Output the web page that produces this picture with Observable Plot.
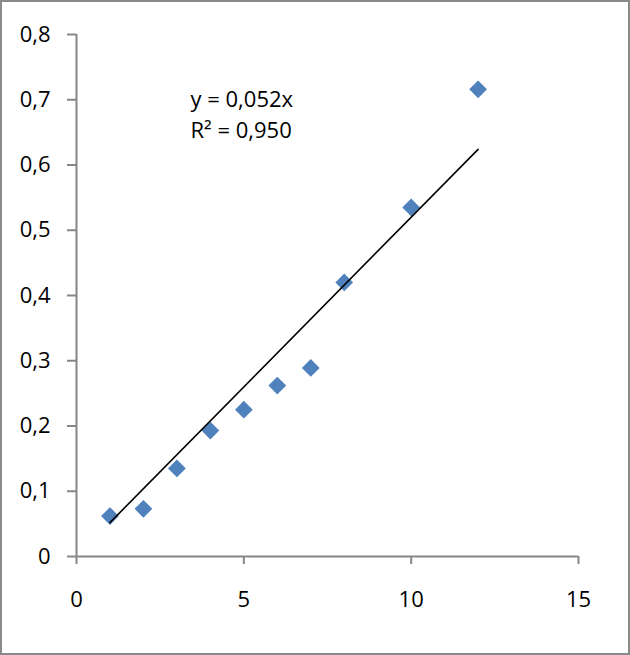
<!DOCTYPE html>
<html>
<head>
<meta charset="utf-8">
<script src="https://cdn.jsdelivr.net/npm/d3@7"></script>
<script src="https://cdn.jsdelivr.net/npm/@observablehq/plot@0.6"></script>
<style>
  html, body { margin: 0; padding: 0; background: #fff; }
  #chart svg { display: block; outline: 2px solid #8a8a8a; outline-offset: -2px; }
</style>
</head>
<body>
<div id="chart"></div>
<script>
// Data
const xValues = [1, 2, 3, 4, 5, 6, 7, 8, 10, 12];
const yValues = [0.062, 0.073, 0.135, 0.193, 0.225, 0.262, 0.289, 0.420, 0.535, 0.716];
const slope = 0.052;
const rSquared = "0,950";
const trendXRange = [1, 12];
const xTicks = [0, 5, 10, 15];
const yTicks = [0, 0.1, 0.2, 0.3, 0.4, 0.5, 0.6, 0.7, 0.8];

const points = xValues.map((x, i) => ({x, y: yValues[i]}));
const trend = trendXRange.map(x => ({x, y: slope * x}));
const fmt = d => String(d).replace(".", ",");
const equation = [`y = ${fmt(slope)}x\nR² = ${rSquared}`];

const axisColor = "#868686";
const font = "'Open Sans', 'Liberation Sans', sans-serif";

const chart = Plot.plot({
  width: 630,
  height: 655,
  marginLeft: 76,
  marginRight: 52,
  marginTop: 34,
  marginBottom: 99,
  style: {fontFamily: font, fontSize: "22px", color: "#000", background: "#fff"},
  x: {domain: [0, 15], ticks: xTicks},
  y: {domain: [0, 0.8], ticks: yTicks},
  marks: [
    Plot.axisX({ticks: xTicks, tickSize: 8, stroke: axisColor, strokeWidth: 2, text: null, label: null}),
    Plot.axisX({ticks: xTicks, tickSize: 0, tickPadding: 35, tickFormat: fmt, fill: "#000", fontSize: 22, label: null}),
    Plot.axisY({ticks: yTicks, tickSize: 9, stroke: axisColor, strokeWidth: 2, text: null, label: null}),
    Plot.axisY({ticks: yTicks, tickSize: 0, tickPadding: 26, tickFormat: fmt, fill: "#000", fontSize: 22, label: null}),
    Plot.ruleX([0], {stroke: axisColor, strokeWidth: 2}),
    Plot.ruleY([0], {stroke: axisColor, strokeWidth: 2}),
    Plot.dot(points, {x: "x", y: "y", symbol: "diamond2", r: 8, fill: "#4f81bd", stroke: "none"}),
    Plot.line(trend, {x: "x", y: "y", stroke: "#000", strokeWidth: 1.6}),
    Plot.text(equation, {text: d => d, frameAnchor: "top-left", textAnchor: "start", lineAnchor: "middle", lineHeight: 1.42, dx: 114, dy: 78, fontSize: 22, fill: "#000"})
  ]
});
document.getElementById("chart").append(chart);
</script>
</body>
</html>
